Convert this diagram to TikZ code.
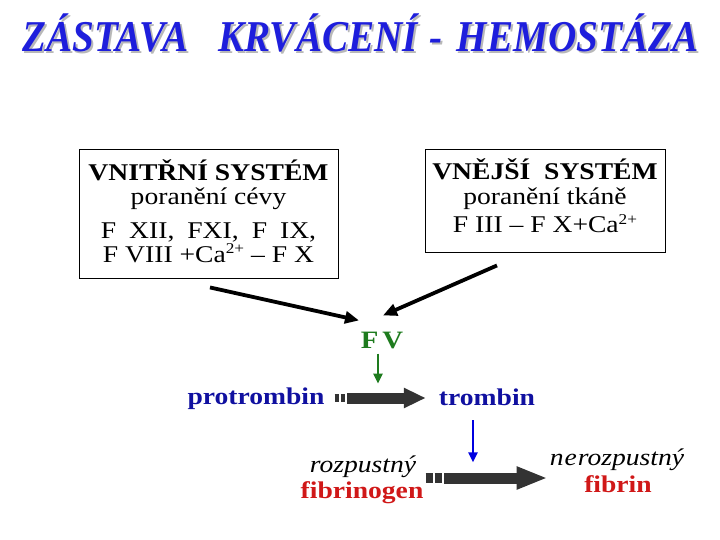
\documentclass[tikz,border=0pt]{standalone}
\usepackage{fontspec}
\setmainfont{Liberation Serif}[FakeStretch=1.15]
\newfontfamily\titlefont{Liberation Serif}[FakeStretch=0.89]
\usepackage{tikz}
\usetikzlibrary{arrows.meta,positioning,calc}
\definecolor{titleblue}{HTML}{1E1EDC}
\definecolor{shadowgray}{HTML}{B8B8B8}
\definecolor{textblue}{HTML}{1010A0}
\definecolor{arrowblue}{HTML}{0000E0}
\definecolor{fvgreen}{HTML}{1E7B1E}
\definecolor{fibred}{HTML}{D01818}
\definecolor{arrowgray}{HTML}{333333}
\newcommand{\ionsup}[1]{\raisebox{8.5pt}{\fontsize{15}{15}\selectfont #1}}
% block arrow: start, tip, stub height, stub width, bar height, head length, head width
\newcommand{\fatarrow}[7]{
  \draw[arrowgray,line width=#3,dash pattern=on #4 off 1.5pt] (#1) -- ++($2*(#4,0)+(1.5,0)$);
  \draw[arrowgray,line width=#5,-{Triangle[length=#6,width=#7]}] ($(#1)+2*(#4,0)+(3.5,0)$) -- (#2);
}
\tikzset{
  titletext/.style={font=\titlefont\fontsize{44}{44}\selectfont\bfseries\itshape,inner sep=0pt,anchor=base west},
  sysbox/.style={draw,line width=0.9pt,align=center,inner sep=0pt,font=\fontsize{24}{24}\selectfont},
  substance/.style={font=\fontsize{24}{24}\selectfont\bfseries,inner sep=0pt,anchor=base},
  thinarrow/.style={line width=2.2pt,-{Triangle[length=10pt,width=9pt]}},
  heavyarrow/.style={line width=3.8pt,-{Triangle[length=14pt,width=12pt]}}
}

\begin{document}
\begin{tikzpicture}[x=1pt,y=-1pt,>=Latex]
  \useasboundingbox (0,0) rectangle (720,540);
  % title with shadow
  \node[titletext,text=shadowgray] at (24,54) {ZÁSTAVA\hspace{30pt}KRVÁCENÍ\hspace{12pt}-\hspace{14pt}HEMOSTÁZA};
  \node[titletext,text=titleblue] (title) at (22,52) {ZÁSTAVA\hspace{30pt}KRVÁCENÍ\hspace{12pt}-\hspace{14pt}HEMOSTÁZA};

  % the two systems
  \node[sysbox,minimum width=259pt,minimum height=129pt] (vnitrni) at (208.5,213.5)
    {\rule{0pt}{22pt}\textbf{VNITŘNÍ SYSTÉM}\\poranění cévy\\[10pt]
     {\spaceskip=13pt F XII, FXI, F IX,}\\[0pt]F VIII +Ca\ionsup{2+} – F X\rule[-7pt]{0pt}{7pt}};
  \node[sysbox,minimum width=240pt,minimum height=103pt] (vnejsi) at (545,200.5)
    {\rule{0pt}{22pt}\textbf{VNĚJŠÍ~~SYSTÉM}\\[1pt]poranění tkáně\\[4pt]F III – F X+Ca\ionsup{2+}\rule[-10pt]{0pt}{10pt}};

  \node[substance,text=fvgreen,font=\fontsize{25}{25}\selectfont\bfseries] (fv) at (382,348) {F\,V};
  \draw[heavyarrow] ($(vnitrni.south)+(1.5,9)$) -- ($(fv.north)+(-23,-11)$);
  \draw[heavyarrow] ($(vnejsi.south)+(-48,13)$) -- ($(fv.north)+(1,-16)$);

  % prothrombin -> thrombin
  \node[substance,text=textblue] (protrombin) at (256,404) {protrombin};
  \node[substance,text=textblue] (trombin) at (487,405) {trombin};
  \draw[thinarrow,fvgreen] ($(fv.south)+(-4,5)$) -- ++(0,30);
  \coordinate (a1s) at ($(protrombin.base east)+(10,-6)$);
  \coordinate (a1e) at ($(a1s -| trombin.west)+(-13,0)$);
  \fatarrow{a1s}{a1e}{8pt}{4.5pt}{11pt}{22pt}{19pt}

  % fibrinogen -> fibrin
  \node[font=\fontsize{24}{24}\selectfont\itshape,inner sep=0pt,anchor=base] (rozpustny) at (363,472) {rozpustný};
  \node[substance,text=fibred] (fibrinogen) at (362,498) {fibrinogen};
  \node[font=\fontsize{24}{24}\selectfont\itshape,inner sep=0pt,anchor=base] (nerozpustny) at (617,465) {n\kern1pt e\kern1pt rozpustný};
  \node[substance,text=fibred] (fibrin) at (618,492) {fibrin};
  \draw[thinarrow,arrowblue] ($(trombin.south)+(-14,15)$) -- ++(0,42);
  \coordinate (a2s) at ($(fibrinogen.base east)+(2,-20)$);
  \coordinate (a2e) at ($(a2s -| nerozpustny.west)+(-2,0)$);
  \fatarrow{a2s}{a2e}{10pt}{7.5pt}{11pt}{31pt}{21pt}
\end{tikzpicture}
\end{document}
